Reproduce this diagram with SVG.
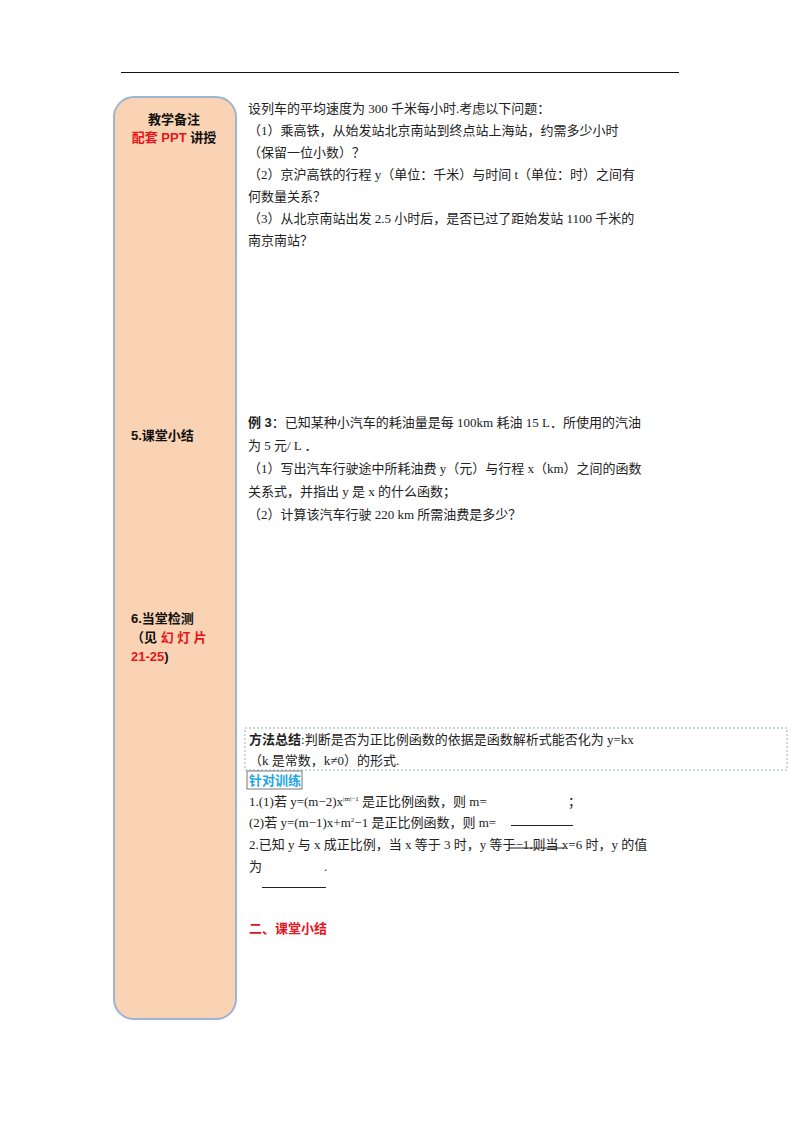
<svg xmlns="http://www.w3.org/2000/svg" width="800" height="1132" viewBox="0 0 800 1132">
<style>
.t{font-family:"Liberation Serif","Noto Sans CJK SC",serif;font-size:13px;fill:#222}
.s{font-family:"Liberation Sans","Noto Sans CJK SC",sans-serif;font-size:13px;font-weight:bold;fill:#111}
.r{fill:#e8141b}
.b{font-family:"Liberation Sans","Noto Sans CJK SC",sans-serif;font-weight:bold}
</style>
<rect width="800" height="1132" fill="#fff"/>
<line x1="121" y1="72.5" x2="679" y2="72.5" stroke="#111" stroke-width="1.2"/>
<g id="sidebar">
<rect x="114" y="97" width="122" height="922" rx="20" fill="#f9d3b4" stroke="#9db4d6" stroke-width="2"/>
<text class="s" x="174" y="124" text-anchor="middle">教学备注</text>
<text class="s" x="174" y="142" text-anchor="middle"><tspan class="r">配套 PPT </tspan>讲授</text>
<text class="s" x="131" y="440">5.课堂小结</text>
<text class="s" x="131" y="623">6.当堂检测</text>
<text class="s" x="131" y="642">（见 <tspan class="r">幻 灯 片</tspan></text>
<text class="s" x="131" y="661"><tspan class="r">21-25</tspan>)</text>
</g>
<g id="problem1" class="t">
<text x="248" y="113">设列车的平均速度为 300 千米每小时.考虑以下问题：</text>
<text x="248" y="135">（1）乘高铁，从始发站北京南站到终点站上海站，约需多少小时</text>
<text x="248" y="157">（保留一位小数）？</text>
<text x="248" y="179">（2）京沪高铁的行程 y（单位：千米）与时间 t（单位：时）之间有</text>
<text x="248" y="201">何数量关系？</text>
<text x="248" y="223">（3）从北京南站出发 2.5 小时后，是否已过了距始发站 1100 千米的</text>
<text x="248" y="245">南京南站？</text>
</g>
<g id="example3" class="t">
<text x="248" y="427"><tspan class="b">例 3</tspan>：已知某种小汽车的耗油量是每 100km 耗油 15 L．所使用的汽油</text>
<text x="248" y="450">为 5 元/ L ．</text>
<text x="248" y="473">（1）写出汽车行驶途中所耗油费 y（元）与行程 x（km）之间的函数</text>
<text x="248" y="496">关系式，并指出 y 是 x 的什么函数；</text>
<text x="248" y="519">（2）计算该汽车行驶 220 km 所需油费是多少？</text>
</g>
<g id="method">
<rect x="245" y="728" width="542" height="42" fill="none" stroke="#8fb0d8" stroke-width="1" stroke-dasharray="2,2"/>
<text class="t" x="249" y="744"><tspan class="b">方法总结</tspan>:判断是否为正比例函数的依据是函数解析式能否化为 y=kx</text>
<text class="t" x="249" y="765">（k 是常数，k≠0）的形式.</text>
</g>
<g id="training" class="t">
<rect x="247" y="771" width="55" height="18" fill="none" stroke="#555" stroke-width="0.8"/>
<text x="249" y="785" class="b" style="fill:#1fa7e8">针对训练</text>
<text x="249" y="806">1.(1)若 y=(m−2)x<tspan dy="-5" font-size="7">|m|−1</tspan><tspan dy="5"> 是正比例函数，则 m=</tspan></text>
<text x="568" y="806">；</text>
<text x="249" y="827">(2)若 y=(m−1)x+m<tspan dy="-5" font-size="7">2</tspan><tspan dy="5">−1 是正比例函数，则 m=</tspan></text>
<line x1="511" y1="825.5" x2="573" y2="825.5" stroke="#222"/>
<text x="249" y="849">2.已知 y 与 x 成正比例，当 x 等于 3 时，y 等于−1.则当 x=6 时，y 的值</text>
<line x1="508" y1="848" x2="565" y2="848" stroke="#222"/>
<text x="249" y="871">为</text>
<text x="324" y="871">.</text>
<line x1="262" y1="887.5" x2="326" y2="887.5" stroke="#222"/>
</g>
<text id="summary" x="249" y="933" class="b" font-size="13" fill="#e8141b">二、课堂小结</text>
</svg>
